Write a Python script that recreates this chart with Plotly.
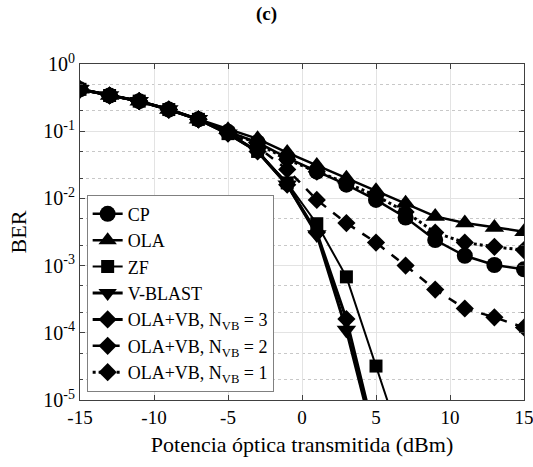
import plotly.graph_objects as go

x = [-15, -13, -11, -9, -7, -5, -3, -1, 1, 3, 5, 7, 9, 11, 13, 15]

ber_cp = [0.42, 0.34, 0.28, 0.21, 0.15, 0.098, 0.068, 0.040, 0.025, 0.016, 0.0095, 0.0052, 0.0024, 0.0014, 0.00102, 0.00088]
ber_ola = [0.42, 0.34, 0.28, 0.21, 0.15, 0.105, 0.077, 0.048, 0.031, 0.020, 0.013, 0.0085, 0.0054, 0.0043, 0.0037, 0.0032]
ber_zf = [0.42, 0.34, 0.28, 0.21, 0.15, 0.092, 0.050, 0.017, 0.0042, 0.00068, 0.000032, 0.0000015]
ber_vblast = [0.42, 0.34, 0.28, 0.21, 0.15, 0.092, 0.050, 0.016, 0.0029, 0.00011, 0.000002]
ber_vb3 = [0.42, 0.34, 0.28, 0.21, 0.15, 0.092, 0.050, 0.016, 0.0031, 0.00016, 0.0000025]
ber_vb2 = [0.42, 0.34, 0.28, 0.21, 0.15, 0.095, 0.058, 0.027, 0.0095, 0.0043, 0.0022, 0.0010, 0.00044, 0.00023, 0.00017, 0.00012]
ber_vb1 = [0.42, 0.34, 0.28, 0.21, 0.15, 0.098, 0.066, 0.038, 0.025, 0.017, 0.011, 0.0063, 0.0031, 0.0022, 0.0019, 0.0017]

x_ticks = [-15, -10, -5, 0, 5, 10, 15]
x_ticktext = ["-15", "-10", "-5", "0", "5", "10", "15"]
y_ticks = [1e-5, 1e-4, 1e-3, 1e-2, 1e-1, 1]
y_ticktext = ["10<sup>-5</sup>", "10<sup>-4</sup>", "10<sup>-3</sup>", "10<sup>-2</sup>", "10<sup>-1</sup>", "10<sup>0</sup>"]

names = ["CP", "OLA", "ZF", "V-BLAST",
         "OLA+VB, N<sub>VB</sub> = 3", "OLA+VB, N<sub>VB</sub> = 2", "OLA+VB, N<sub>VB</sub> = 1"]

series = [ber_cp, ber_ola, ber_zf, ber_vblast, ber_vb3, ber_vb2, ber_vb1]
symbols = ["circle", "triangle-up", "square", "triangle-down", "diamond", "diamond", "diamond"]
dashes = ["solid", "solid", "solid", "solid", "solid", "dash", "dot"]
widths = [2.5, 2.5, 2, 3, 3, 2.5, 3]
sizes = [16, 17, 13, 17, 14, 14, 14]

fig = go.Figure()
for name, y, sym, d, w, s in zip(names, series, symbols, dashes, widths, sizes):
    fig.add_trace(go.Scatter(
        x=x[:len(y)], y=y, name=name, mode="lines+markers",
        line=dict(color="black", width=w, dash=d),
        marker=dict(symbol=sym, size=s, color="black"),
    ))

serif = "Liberation Serif"
fig.update_layout(
    width=533, height=467,
    margin=dict(l=80, r=9, t=64, b=67, autoexpand=False),
    paper_bgcolor="white", plot_bgcolor="white",
    font=dict(family=serif, color="black", size=18),
    title=dict(text="<b>(c)</b>", x=0.5, xanchor="center", y=0.985, yanchor="top",
               font=dict(family=serif, size=19)),
    legend=dict(x=0.015, y=0.025, xanchor="left", yanchor="bottom",
                bgcolor="white", bordercolor="#808080", borderwidth=1,
                font=dict(family=serif, size=18), itemwidth=30,
                tracegroupgap=0),
    showlegend=True,
)
fig.update_xaxes(
    range=[-15, 15], tickvals=x_ticks, ticktext=x_ticktext,
    ticks="inside", ticklen=5, tickcolor="#404040", ticklabeloverflow="allow",
    showline=True, linecolor="#404040", linewidth=1, mirror="allticks",
    showgrid=True, gridcolor="#e3e3e3", gridwidth=1, zeroline=False,
    title=dict(text="Potencia óptica transmitida (dBm)", font=dict(family=serif, size=22), standoff=9),
    tickfont=dict(family=serif, size=19),
)
fig.update_yaxes(
    type="log", range=[-5, 0],
    tickvals=y_ticks, ticktext=y_ticktext,
    ticks="inside", ticklen=5, tickcolor="#404040",
    showline=True, linecolor="#404040", linewidth=1, mirror="allticks",
    showgrid=True, gridcolor="#e3e3e3", gridwidth=1, zeroline=False,
    minor=dict(showgrid=True, gridcolor="#c8c8c8", griddash="dot", gridwidth=1,
               ticks="inside", ticklen=3, tickcolor="#404040"),
    title=dict(text="BER", font=dict(family=serif, size=22), standoff=10),
    tickfont=dict(family=serif, size=20),
)

fig.write_html("out.html")
